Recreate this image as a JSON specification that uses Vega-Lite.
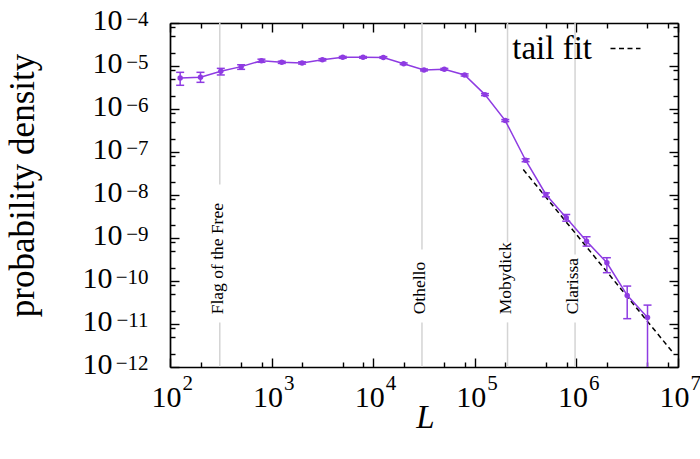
{
  "$schema": "https://vega.github.io/schema/vega-lite/v6.json",
  "autosize": "none",
  "width": 508,
  "height": 344,
  "padding": {"left": 170, "top": 23, "right": 22, "bottom": 92},
  "config": {
    "view": {"stroke": null},
    "axis": {"labelFont": "Liberation Serif", "titleFont": "Liberation Serif", "labelColor": "black", "titleColor": "black", "grid": false, "labelOverlap": false, "labelFlush": false, "titleFontWeight": "normal"},
    "legend": {"labelFont": "Liberation Serif", "labelColor": "black"}
  },
  "datasets": {
    "pts": [
      {"L": 125.9, "p": 5.27e-6, "lo": 3.56e-6, "hi": 7.13e-6},
      {"L": 199.5, "p": 5.45e-6, "lo": 4.17e-6, "hi": 7.13e-6},
      {"L": 316.2, "p": 7.51e-6, "lo": 6.19e-6, "hi": 8.81e-6},
      {"L": 501.2, "p": 9.66e-6, "lo": 8.36e-6, "hi": 1.07e-5},
      {"L": 794.3, "p": 1.33e-5, "lo": 1.22e-5, "hi": 1.44e-5},
      {"L": 1258.9, "p": 1.22e-5, "lo": 1.15e-5, "hi": 1.29e-5},
      {"L": 1995.3, "p": 1.18e-5, "lo": 1.11e-5, "hi": 1.25e-5},
      {"L": 3162.3, "p": 1.40e-5, "lo": 1.32e-5, "hi": 1.48e-5},
      {"L": 5011.9, "p": 1.59e-5, "lo": 1.51e-5, "hi": 1.67e-5},
      {"L": 7943.3, "p": 1.59e-5, "lo": 1.52e-5, "hi": 1.66e-5},
      {"L": 12589, "p": 1.58e-5, "lo": 1.51e-5, "hi": 1.65e-5},
      {"L": 19953, "p": 1.13e-5, "lo": 1.08e-5, "hi": 1.18e-5},
      {"L": 31623, "p": 8.09e-6, "lo": 7.7e-6, "hi": 8.5e-6},
      {"L": 50119, "p": 8.36e-6, "lo": 7.95e-6, "hi": 8.8e-6},
      {"L": 79433, "p": 6.19e-6, "lo": 5.85e-6, "hi": 6.55e-6},
      {"L": 125893, "p": 2.16e-6, "lo": 2.05e-6, "hi": 2.28e-6},
      {"L": 199526, "p": 5.38e-7, "lo": 5.1e-7, "hi": 5.68e-7},
      {"L": 316228, "p": 6.43e-8, "lo": 5.95e-8, "hi": 6.95e-8},
      {"L": 501187, "p": 1.03e-8, "lo": 9.08e-9, "hi": 1.12e-8},
      {"L": 794328, "p": 2.95e-9, "lo": 2.46e-9, "hi": 3.52e-9},
      {"L": 1258925, "p": 8.45e-10, "lo": 6.47e-10, "hi": 1.07e-9},
      {"L": 1995262, "p": 2.66e-10, "lo": 1.56e-10, "hi": 3.48e-10},
      {"L": 3162278, "p": 4.63e-11, "lo": 1.33e-11, "hi": 7.62e-11},
      {"L": 5011872, "p": 1.41e-11, "lo": 1e-14, "hi": 2.75e-11}
    ],
    "segs": [
      {"book": "Flag of the Free", "L": 309, "a": 1e-4, "b": 1.75e-8},
      {"book": "Flag of the Free", "L": 309, "a": 1.09e-11, "b": 1e-12},
      {"book": "Othello", "L": 30200, "a": 1e-4, "b": 5.42e-10},
      {"book": "Othello", "L": 30200, "a": 1.09e-11, "b": 1e-12},
      {"book": "Mobydick", "L": 210000, "a": 1e-4, "b": 7.88e-10},
      {"book": "Mobydick", "L": 210000, "a": 1.09e-11, "b": 1e-12},
      {"book": "Clarissa", "L": 970000, "a": 1e-4, "b": 4.16e-10},
      {"book": "Clarissa", "L": 970000, "a": 1.09e-11, "b": 1e-12}
    ],
    "books": [
      {"book": "Flag of the Free", "L": 309, "at": 1.68e-11},
      {"book": "Othello", "L": 30200, "at": 1.68e-11},
      {"book": "Mobydick", "L": 210000, "at": 1.68e-11},
      {"book": "Clarissa", "L": 970000, "at": 1.68e-11}
    ],
    "fit": [
      {"s": "tail fit", "L": 300000, "p": 3.91e-8},
      {"s": "tail fit", "L": 8670000, "p": 2.35e-12}
    ]
  },
  "layer": [
    {
      "data": {"name": "segs"},
      "mark": {"type": "rule", "color": "#d4d4d4", "strokeWidth": 1.5},
      "encoding": {
        "x": {"field": "L", "type": "quantitative", "scale": {"type": "log", "domain": [100, 10000000], "nice": false},
          "axis": {"orient": "bottom", "values": [100, 1000, 10000, 100000, 1000000, 10000000], "labelExpr": "'10'", "ticks": false, "domain": false,
            "labelFontSize": 30, "labelAlign": "right", "labelOffset": 11, "labelBaseline": "alphabetic", "labelPadding": 39,
            "title": "L", "titleFontStyle": "italic", "titleFontSize": 33, "titleX": 255, "titleY": 60, "titleBaseline": "alphabetic", "titleAlign": "center"}},
        "y": {"field": "a", "type": "quantitative", "scale": {"type": "log", "domain": [1e-12, 1e-4], "nice": false},
          "axis": {"orient": "left", "values": [1e-12, 1e-11, 1e-10, 1e-9, 1e-8, 1e-7, 1e-6, 1e-5, 1e-4], "labelExpr": "'10'", "ticks": false, "domain": false,
            "labelFontSize": 30, "labelAlign": "right", "labelBaseline": "alphabetic", "labelOffset": 6,
            "labelPadding": {"condition": {"test": "datum.value < 3e-10", "value": 58}, "value": 48},
            "title": "probability density", "titleFontSize": 35, "titleX": -148, "titleY": 162, "titleAngle": 270, "titleBaseline": "middle", "titleAlign": "center"}},
        "y2": {"field": "b"},
        "detail": {"field": "book"}
      }
    },
    {
      "data": {"name": "books"},
      "mark": {"type": "text", "angle": 270, "align": "left", "baseline": "alphabetic", "dy": 3, "font": "Liberation Serif", "fontSize": 17.5, "color": "black"},
      "encoding": {
        "x": {"field": "L", "type": "quantitative", "scale": {"type": "log", "domain": [100, 10000000], "nice": false},
          "axis": {"orient": "bottom", "values": [100, 1000, 10000, 100000, 1000000, 10000000], "labelExpr": "''+round(log(datum.value)/LN10)", "ticks": false, "domain": false,
            "labelFontSize": 21, "labelAlign": "left", "labelOffset": 12, "labelBaseline": "alphabetic", "labelPadding": 22, "title": null}},
        "y": {"field": "at", "type": "quantitative", "scale": {"type": "log", "domain": [1e-12, 1e-4], "nice": false},
          "axis": {"orient": "left", "values": [1e-12, 1e-11, 1e-10, 1e-9, 1e-8, 1e-7, 1e-6, 1e-5, 1e-4], "labelExpr": "replace(''+round(log(datum.value)/LN10), '-', '−')", "ticks": false, "domain": false,
            "labelFontSize": 21, "labelAlign": "right", "labelBaseline": "alphabetic", "labelOffset": 2, "labelPadding": 22, "title": null}},
        "text": {"field": "book"}
      }
    },
    {
      "data": {"name": "fit"},
      "mark": {"type": "line", "color": "black", "strokeWidth": 1.5, "clip": true},
      "encoding": {
        "x": {"field": "L", "type": "quantitative", "scale": {"type": "log", "domain": [100, 10000000], "nice": false},
          "axis": {"orient": "top", "values": [100, 200, 500, 800, 1000, 2000, 5000, 8000, 10000, 20000, 50000, 80000, 100000, 200000, 500000, 800000, 1000000, 2000000, 5000000, 8000000, 10000000],
            "labels": false, "ticks": true, "tickSize": {"condition": {"test": "abs(log(datum.value)/LN10 - round(log(datum.value)/LN10)) < 0.001", "value": -9}, "value": -5},
            "tickColor": "black", "tickWidth": 1.4, "domain": true, "domainColor": "black", "domainWidth": 1.7, "title": null}},
        "y": {"field": "p", "type": "quantitative", "scale": {"type": "log", "domain": [1e-12, 1e-4], "nice": false},
          "axis": {"orient": "right", "values": [1e-12, 2e-12, 5e-12, 8e-12, 1e-11, 2e-11, 5e-11, 8e-11, 1e-10, 2e-10, 5e-10, 8e-10, 1e-9, 2e-9, 5e-9, 8e-9, 1e-8, 2e-8, 5e-8, 8e-8, 1e-7, 2e-7, 5e-7, 8e-7, 1e-6, 2e-6, 5e-6, 8e-6, 1e-5, 2e-5, 5e-5, 8e-5, 1e-4],
            "labels": false, "ticks": true, "tickSize": {"condition": {"test": "abs(log(datum.value)/LN10 - round(log(datum.value)/LN10)) < 0.001", "value": -9}, "value": -5},
            "tickColor": "black", "tickWidth": 1.4, "domain": true, "domainColor": "black", "domainWidth": 1.7, "title": null}},
        "strokeDash": {"field": "s", "type": "nominal", "scale": {"domain": ["tail fit"], "range": [[5, 3.5]]},
          "legend": {"orient": "none", "legendX": 439, "legendY": 9, "title": null, "symbolType": "stroke", "symbolStrokeColor": "black", "symbolStrokeWidth": 1.5, "symbolSize": 900,
            "labelFontSize": 33, "labelAlign": "right", "labelOffset": -50, "padding": 0}}
      }
    },
    {
      "data": {"name": "pts"},
      "mark": {"type": "rule", "color": "#8e3be2", "strokeWidth": 1.5, "clip": true},
      "encoding": {
        "x": {"field": "L", "type": "quantitative", "scale": {"type": "log", "domain": [100, 10000000], "nice": false},
          "axis": {"orient": "bottom", "values": [100, 200, 500, 800, 1000, 2000, 5000, 8000, 10000, 20000, 50000, 80000, 100000, 200000, 500000, 800000, 1000000, 2000000, 5000000, 8000000, 10000000],
            "labels": false, "ticks": true, "tickSize": {"condition": {"test": "abs(log(datum.value)/LN10 - round(log(datum.value)/LN10)) < 0.001", "value": -9}, "value": -5},
            "tickColor": "black", "tickWidth": 1.4, "domain": true, "domainColor": "black", "domainWidth": 1.7, "title": null}},
        "y": {"field": "lo", "type": "quantitative", "scale": {"type": "log", "domain": [1e-12, 1e-4], "nice": false},
          "axis": {"orient": "left", "values": [1e-12, 2e-12, 5e-12, 8e-12, 1e-11, 2e-11, 5e-11, 8e-11, 1e-10, 2e-10, 5e-10, 8e-10, 1e-9, 2e-9, 5e-9, 8e-9, 1e-8, 2e-8, 5e-8, 8e-8, 1e-7, 2e-7, 5e-7, 8e-7, 1e-6, 2e-6, 5e-6, 8e-6, 1e-5, 2e-5, 5e-5, 8e-5, 1e-4],
            "labels": false, "ticks": true, "tickSize": {"condition": {"test": "abs(log(datum.value)/LN10 - round(log(datum.value)/LN10)) < 0.001", "value": -9}, "value": -5},
            "tickColor": "black", "tickWidth": 1.4, "domain": true, "domainColor": "black", "domainWidth": 1.7, "title": null}},
        "y2": {"field": "hi"}
      }
    },
    {
      "data": {"name": "pts"},
      "mark": {"type": "tick", "orient": "horizontal", "size": 8, "thickness": 1.5, "color": "#8e3be2", "clip": true, "opacity": 1},
      "encoding": {
        "x": {"field": "L", "type": "quantitative", "scale": {"type": "log", "domain": [100, 10000000], "nice": false}, "axis": null},
        "y": {"field": "lo", "type": "quantitative", "scale": {"type": "log", "domain": [1e-12, 1e-4], "nice": false}, "axis": null}
      }
    },
    {
      "data": {"name": "pts"},
      "mark": {"type": "tick", "orient": "horizontal", "size": 8, "thickness": 1.5, "color": "#8e3be2", "clip": true, "opacity": 1},
      "encoding": {
        "x": {"field": "L", "type": "quantitative", "scale": {"type": "log", "domain": [100, 10000000], "nice": false}, "axis": null},
        "y": {"field": "hi", "type": "quantitative", "scale": {"type": "log", "domain": [1e-12, 1e-4], "nice": false}, "axis": null}
      }
    },
    {
      "data": {"name": "pts"},
      "mark": {"type": "line", "color": "#8e3be2", "strokeWidth": 1.5, "clip": true,
        "point": {"filled": true, "size": 30, "color": "#8e3be2", "opacity": 1}},
      "encoding": {
        "x": {"field": "L", "type": "quantitative", "scale": {"type": "log", "domain": [100, 10000000], "nice": false}, "axis": null},
        "y": {"field": "p", "type": "quantitative", "scale": {"type": "log", "domain": [1e-12, 1e-4], "nice": false}, "axis": null}
      }
    }
  ],
  "resolve": {"axis": {"x": "independent", "y": "independent"}}
}
